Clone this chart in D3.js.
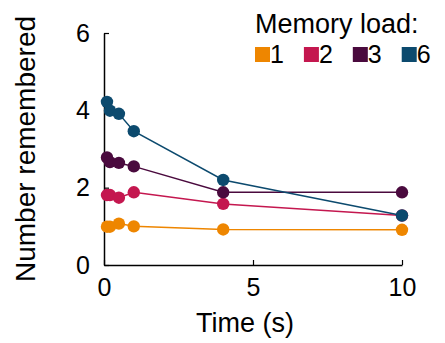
<!DOCTYPE html>
<html>
<head>
<meta charset="utf-8">
<script src="https://cdn.jsdelivr.net/npm/d3@7"></script>
<style>
  html, body { margin: 0; padding: 0; background: #fff; }
  svg { display: block; }
  text { font-family: "Liberation Sans", Arial, Helvetica, sans-serif; fill: #000; }
</style>
</head>
<body>
<svg id="chart" width="445" height="343"></svg>
<script>
// Delay after the memory array (seconds)
const times = [0.1, 0.2, 0.5, 1, 4, 10];

// Mean number of items remembered, one array per memory load
const load1 = [0.99, 0.99, 1.07, 1.00, 0.92, 0.91];
const load2 = [1.81, 1.81, 1.74, 1.88, 1.58, 1.28];
const load3 = [2.78, 2.66, 2.64, 2.55, 1.88, 1.88];
const load6 = [4.22, 3.99, 3.91, 3.46, 2.20, 1.28];

const loadLabels = ["1", "2", "3", "6"];
const loadColors = ["#ee8600", "#c4174f", "#4a0a3e", "#0c4a6e"];

const xTicks = [0, 5, 10];
const yTicks = [0, 2, 4, 6];

const series = [load1, load2, load3, load6].map((vals, i) => ({
  label: loadLabels[i],
  color: loadColors[i],
  points: vals.map((v, j) => ({ t: times[j], v }))
}));

const width = 445, height = 343;
const margin = { top: 33, right: 43, bottom: 78, left: 104 };

const svg = d3.select("#chart");

const x = d3.scaleLinear().domain([0, 10]).range([margin.left, width - margin.right]);
const y = d3.scaleLinear().domain([0, 6]).range([height - margin.bottom, margin.top]);

// Axes: ticks point inward, no outer ticks
const xAxis = d3.axisBottom(x).tickValues(xTicks).tickFormat(d3.format("d"))
  .tickSizeInner(-5).tickSizeOuter(0).tickPadding(13);
const yAxis = d3.axisLeft(y).tickValues(yTicks).tickFormat(d3.format("d"))
  .tickSizeInner(-5).tickSizeOuter(0).tickPadding(14);

const gx = svg.append("g")
  .attr("transform", `translate(0,${height - margin.bottom})`)
  .call(xAxis);
const gy = svg.append("g")
  .attr("transform", `translate(${margin.left},0)`)
  .call(yAxis);

[gx, gy].forEach(g => {
  g.selectAll("path.domain").attr("stroke", "#000").attr("stroke-width", 1.5);
  g.selectAll(".tick line").attr("stroke", "#000").attr("stroke-width", 1.2);
  g.selectAll(".tick text")
    .style("font-family", '"Liberation Sans", Arial, sans-serif')
    .style("font-size", "25px")
    .attr("fill", "#000");
});

// Axis titles
svg.append("text")
  .attr("x", 245)
  .attr("y", 332)
  .attr("text-anchor", "middle")
  .style("font-size", "27px")
  .text("Time (s)");

svg.append("text")
  .attr("transform", `translate(35,${(margin.top + height - margin.bottom) / 2}) rotate(-90)`)
  .attr("text-anchor", "middle")
  .style("font-size", "28px")
  .text("Number remembered");

// Lines and markers
const line = d3.line().x(d => x(d.t)).y(d => y(d.v));

const groups = svg.append("g").selectAll("g")
  .data(series)
  .join("g");

groups.append("path")
  .attr("d", d => line(d.points))
  .attr("fill", "none")
  .attr("stroke", d => d.color)
  .attr("stroke-width", 1.5);

groups.selectAll("circle")
  .data(d => d.points.map(p => ({ ...p, color: d.color })))
  .join("circle")
  .attr("cx", d => x(d.t))
  .attr("cy", d => y(d.v))
  .attr("r", 6.2)
  .attr("fill", d => d.color);

// Legend
const legend = svg.append("g").attr("transform", "translate(255,0)");
legend.append("text")
  .attr("x", 0)
  .attr("y", 33)
  .style("font-size", "27px")
  .text("Memory load:");

let lx = 0;
const sw = 15;
series.forEach(s => {
  const item = legend.append("g").attr("transform", `translate(${lx},0)`);
  item.append("rect")
    .attr("x", 0).attr("y", 47)
    .attr("width", sw).attr("height", sw)
    .attr("fill", s.color);
  const t = item.append("text")
    .attr("x", sw)
    .attr("y", 63)
    .style("font-size", "25px")
    .text(s.label);
  lx += sw + t.node().getComputedTextLength() + 20;
});
</script>
</body>
</html>
